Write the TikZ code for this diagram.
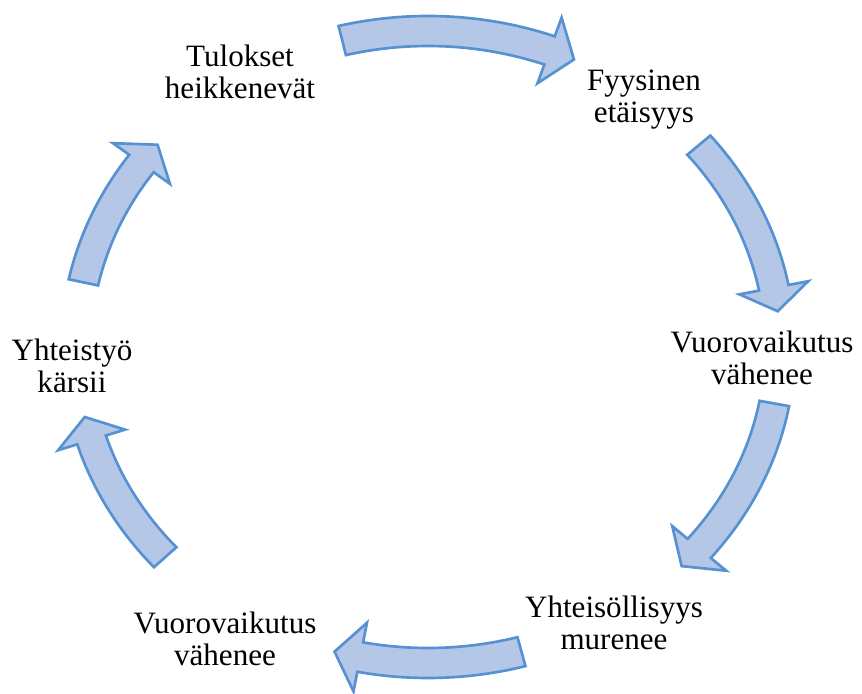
\documentclass[tikz,border=0pt]{standalone}
\usepackage{fontspec}
\setmainfont{Liberation Serif}
\usepackage{tikz}
\definecolor{arrowfill}{RGB}{180,199,231}
\definecolor{arrowline}{RGB}{86,146,210}
\tikzset{
  cycletext/.style={align=center,inner sep=0pt,font=\fontsize{23.3}{24}\selectfont},
  cyclearrow/.style={draw=arrowline,fill=arrowfill,line width=2pt,line join=miter}
}
\newcommand{\cyclenode}[3]{\node[cycletext] at (#1) (#2) {#3}}
% curved block arrow on the ellipse: tail angle, tip angle
\newcommand{\cyclearrow}[2]{%
  \pgfmathsetmacro{\neckang}{#2+4.3*sign(#1-#2)}
  \draw[cyclearrow] (#1:367 and 331)
    arc[start angle=#1, end angle=\neckang, x radius=367, y radius=331]
    -- (\neckang:387 and 351) -- (#2:352 and 316) -- (\neckang:317 and 281)
    -- (\neckang:337 and 301)
    arc[start angle=\neckang, end angle=#1, x radius=337, y radius=301] -- cycle}

\begin{document}
\begin{tikzpicture}[x=0.75pt,y=0.75pt]
  \useasboundingbox (0,0) rectangle (862,693);
  \cyclenode{240,621.5}{tulokset}{Tulokset\\heikkenevät};
  \cyclenode{644,593}{etaisyys}{Fyysinen\\etäisyys};
  \cyclenode{762,335}{vuoro1}{Vuorovaikutus\\vähenee};
  \cyclenode{614,70}{yhteisollisyys}{Yhteisöllisyys\\murenee};
  \cyclenode{225,54.5}{vuoro2}{Vuorovaikutus\\vähenee};
  \cyclenode{72,327}{yhteistyo}{Yhteistyö\\kärsii};
  \begin{scope}[shift={(428,346)}]
    \cyclearrow{104.1}{65.5};
    \cyclearrow{39.7}{6.5};
    \cyclearrow{-10.3}{-43.9};
    \cyclearrow{-74.6}{-105.4};
    \cyclearrow{-138.3}{-167.2};
    \cyclearrow{168.2}{140.2};
  \end{scope}
\end{tikzpicture}
\end{document}
